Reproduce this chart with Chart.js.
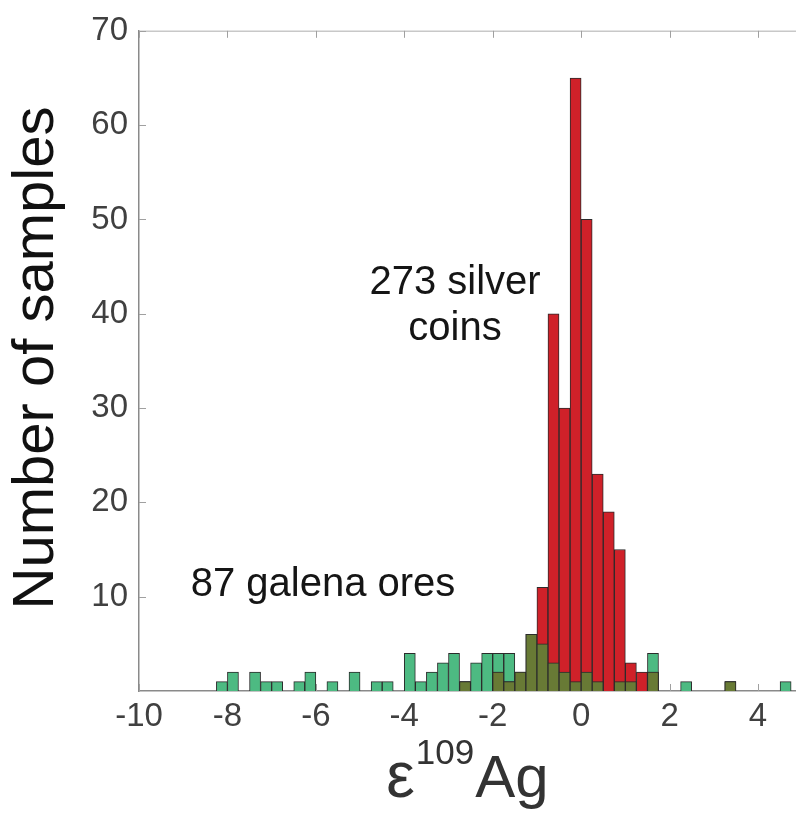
<!DOCTYPE html>
<html>
<head>
<meta charset="utf-8">
<script src="https://cdn.jsdelivr.net/npm/chart.js@4.4.1/dist/chart.umd.min.js"></script>
<style>
    html, body { margin: 0; padding: 0; background: #fff; }
    #wrap { width: 796px; height: 825px; }
</style>
</head>
<body>
<div id="wrap"><canvas id="histChart" width="796" height="825"></canvas></div>
<script>
// Histogram of epsilon-109 Ag, bins 0.25 wide (left edges below)
const binLeft = [
    -8.25, -8, -7.75, -7.5, -7.25, -7, -6.75, -6.5, -6.25, -6,
    -5.75, -5.5, -5.25, -5, -4.75, -4.5, -4.25, -4, -3.75, -3.5,
    -3.25, -3, -2.75, -2.5, -2.25, -2, -1.75, -1.5, -1.25, -1,
    -0.75, -0.5, -0.25, 0, 0.25, 0.5, 0.75, 1, 1.25, 1.5,
    1.75, 2, 2.25, 2.5, 2.75, 3, 3.25, 3.5, 3.75, 4,
    4.25, 4.5
];
const binWidth = 0.25;

// 87 galena ores (green)
const galenaCounts = [
    1, 2, 0, 2, 1, 1, 0, 1, 2, 0,
    1, 0, 2, 0, 1, 1, 0, 4, 1, 2,
    3, 4, 1, 3, 4, 4, 4, 2, 6, 5,
    3, 2, 1, 2, 1, 0, 1, 1, 0, 4,
    0, 0, 1, 0, 0, 0, 1, 0, 0, 0,
    0, 1
];

// 273 silver coins (red)
const coinCounts = [
    0, 0, 0, 0, 0, 0, 0, 0, 0, 0,
    0, 0, 0, 0, 0, 0, 0, 0, 0, 0,
    0, 0, 1, 0, 0, 2, 1, 2, 6, 11,
    40, 30, 65, 50, 23, 19, 15, 3, 2, 2,
    0, 0, 0, 0, 0, 0, 1, 0, 0, 0,
    0, 0
];

const xTicks = [-10, -8, -6, -4, -2, 0, 2, 4];
const yTicks = [10, 20, 30, 40, 50, 60, 70];

const FONT = '"Liberation Sans", Arial, Helvetica, sans-serif';

function toPoints(counts) {
    return counts.map((c, i) => ({ x: binLeft[i] + binWidth / 2, y: c > 0 ? c : null }));
}

// where both histograms overlap the colours mix to olive
const overlapCounts = galenaCounts.map((g, i) => Math.min(g, coinCounts[i]));

const axisExtras = {
    id: 'axisExtras',
    beforeDatasetsDraw(chart) {
        const { ctx, chartArea: a, scales: { x, y } } = chart;
        ctx.save();
        // light top frame line
        ctx.strokeStyle = '#c8c8c8';
        ctx.lineWidth = 1.5;
        ctx.beginPath();
        ctx.moveTo(a.left, a.top + 0.5);
        ctx.lineTo(a.right, a.top + 0.5);
        ctx.stroke();
        // inward tick marks
        ctx.strokeStyle = '#a0a0a0';
        ctx.lineWidth = 1;
        ctx.beginPath();
        xTicks.forEach(v => {
            const px = Math.round(x.getPixelForValue(v)) + 0.5;
            ctx.moveTo(px, a.bottom);
            ctx.lineTo(px, a.bottom - 7);
            ctx.moveTo(px, a.top);
            ctx.lineTo(px, a.top + 7);
        });
        yTicks.forEach(v => {
            const py = Math.round(y.getPixelForValue(v)) + 0.5;
            ctx.moveTo(a.left, py);
            ctx.lineTo(a.left + 7, py);
        });
        ctx.stroke();
        ctx.restore();
    },
    afterDraw(chart) {
        const { ctx, chartArea: a } = chart;
        ctx.save();

        // y axis title
        ctx.fillStyle = '#111';
        ctx.font = '58px ' + FONT;
        ctx.textAlign = 'center';
        ctx.textBaseline = 'alphabetic';
        ctx.translate(53, 358);
        ctx.rotate(-Math.PI / 2);
        ctx.fillText('Number of samples', 0, 0);
        ctx.setTransform(1, 0, 0, 1, 0, 0);

        // x axis title: ε^109 Ag
        const big = '60px ' + FONT;
        const small = '35px ' + FONT;
        ctx.fillStyle = '#333';
        ctx.textAlign = 'left';
        ctx.font = '64px ' + FONT;
        const wEps = ctx.measureText('ε').width;
        ctx.font = big;
        const wAg = ctx.measureText('Ag').width;
        ctx.font = small;
        const wSup = ctx.measureText('109').width;
        const total = wEps + wSup + wAg + 2;
        let tx = (a.left + a.right) / 2 - total / 2;
        const base = 797;
        ctx.font = '64px ' + FONT;
        ctx.fillText('ε', tx, base);
        tx += wEps + 1;
        ctx.font = small;
        ctx.fillText('109', tx, base - 33);
        tx += wSup + 1;
        ctx.font = big;
        ctx.fillText('Ag', tx, base);

        // annotations
        ctx.fillStyle = '#151515';
        ctx.font = '40px ' + FONT;
        ctx.textAlign = 'center';
        ctx.fillText('273 silver', 455, 294);
        ctx.fillText('coins', 455, 340);
        ctx.fillText('87 galena ores', 323, 596);
        ctx.restore();
    }
};

const barCommon = {
    grouped: false,
    barPercentage: 1,
    categoryPercentage: 1,
    borderWidth: 1,
    borderColor: '#2b2b2b',
    borderSkipped: 'start'
};

new Chart(document.getElementById('histChart'), {
    type: 'bar',
    data: {
        datasets: [
            Object.assign({ label: 'overlap', data: toPoints(overlapCounts), backgroundColor: '#687a35', order: 0 }, barCommon),
            Object.assign({ label: '273 silver coins', data: toPoints(coinCounts), backgroundColor: '#cf2129', order: 1 }, barCommon),
            Object.assign({ label: '87 galena ores', data: toPoints(galenaCounts), backgroundColor: '#4dba82', order: 2 }, barCommon)
        ]
    },
    options: {
        responsive: false,
        animation: false,
        devicePixelRatio: 1,
        layout: { padding: { top: 28, right: 0, left: 0, bottom: 0 } },
        plugins: {
            legend: { display: false },
            tooltip: { enabled: false }
        },
        scales: {
            x: {
                type: 'linear',
                min: -10,
                max: 4.86,
                offset: false,
                grid: { display: false, drawTicks: false, offset: false },
                border: { display: true, color: '#8a8a8a', width: 1.5 },
                afterBuildTicks: s => { s.ticks = xTicks.map(v => ({ value: v })); },
                afterFit: s => { s.height = 134; },
                ticks: {
                    padding: 6,
                    color: '#404040',
                    font: { family: FONT, size: 33 },
                    maxRotation: 0,
                    callback: v => String(v)
                }
            },
            y: {
                min: 0,
                max: 70,
                grid: { display: false, drawTicks: false },
                border: { display: true, color: '#8a8a8a', width: 1.5 },
                afterBuildTicks: s => { s.ticks = yTicks.map(v => ({ value: v })); },
                afterFit: s => { s.width = 139; },
                ticks: {
                    padding: 11,
                    color: '#404040',
                    font: { family: FONT, size: 33 },
                    callback: v => String(v)
                }
            }
        }
    },
    plugins: [axisExtras]
});
</script>
</body>
</html>
